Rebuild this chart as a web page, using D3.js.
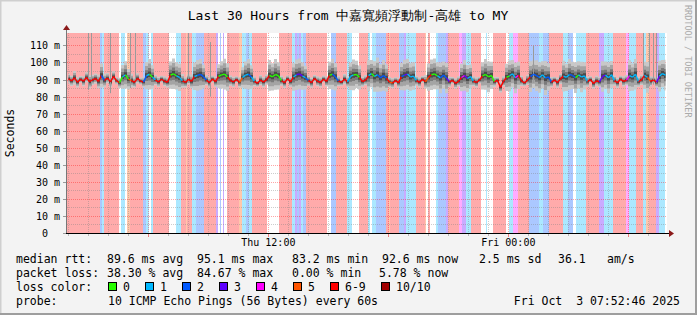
<!DOCTYPE html>
<html>
<head>
<meta charset="utf-8">
<script src="https://cdn.jsdelivr.net/npm/d3@7"></script>
<style>
  body { margin: 0; background: #f3f3f3; }
  text { font-family: "DejaVu Sans Mono", monospace; fill: #000; white-space: pre; }
</style>
</head>
<body>
<svg id="chart" width="697" height="315"></svg>
<script>
// ---- data ----
const title = "Last 30 Hours from 中嘉寬頻浮動制-高雄 to MY";
const timeStart = Date.UTC(2025, 9, 2, 1, 56);
const timeEnd = Date.UTC(2025, 9, 3, 7, 56);
const yMax = 117.3; // ms
const yLabels = [0, 10, 20, 30, 40, 50, 60, 70, 80, 90, 100, 110];

const lossNames = ["0", "1", "2", "3", "4", "5", "6-9", "10/10"];
const lossColors = ["#26ff00", "#00b8ff", "#0059ff", "#5e00ff", "#ff00ff", "#ff5500", "#ff0000", "#a10000"];

// [lost pings out of 10, duration in minutes]
const lossRuns = [
  [7,99],[2,6],[1,6],[7,45],[0,6],[1,12],[0,6],[5,9],[7,39],[2,9],[1,9],[0,6],[1,6],[7,48],
  [0,21],[1,15],[7,15],[5,3],[7,15],[1,12],[2,24],[7,36],[3,6],[0,6],[2,3],[0,6],[3,3],[0,9],
  [7,36],[5,9],[1,12],[2,9],[1,9],[7,45],[0,36],[7,39],[1,9],[3,6],[2,6],[3,6],[1,6],[2,9],
  [7,63],[0,12],[2,15],[7,33],[1,15],[0,21],[7,27],
  [1,6],[0,6],[1,12],[2,30],[7,9],[5,3],[7,27],[2,15],[3,6],[1,30],[7,27],[5,3],[0,6],[7,6],
  [0,18],[1,6],[2,24],[3,6],[7,33],[4,9],[3,12],[1,15],[7,30],[0,15],[1,3],[0,18],[7,39],[0,9],
  [1,12],[4,15],[7,33],[2,30],[1,12],[2,18],[7,42],[1,15],[2,15],[0,9],[1,30],[7,39],[3,15],
  [1,27],[7,39],[4,9],[1,21],[7,21],[1,9],[5,9],[7,21],[3,9],[1,18],[0,6]
];

// median rtt (ms), one value every 9 minutes
const median = [
  90.5,89.2,91.0,88.4,90.1,89.0,91.3,88.7,89.8,90.6,
  88.9,92.4,89.5,90.8,88.6,91.9,89.3,88.1,91.6,92.8,
  90.2,89.4,88.3,90.7,89.1,88.5,92.3,93.1,91.4,89.7,
  88.6,90.2,89.0,88.4,92.6,93.4,92.1,91.3,89.2,88.3,
  90.1,88.9,91.8,92.5,93.0,91.7,89.6,88.2,90.3,88.8,
  91.9,92.7,93.2,91.5,89.4,88.6,90.0,88.3,91.2,92.6,
  93.1,91.4,88.9,87.8,89.7,88.5,89.9,92.4,91.6,93.0,
  92.2,89.3,88.1,90.4,88.7,91.5,92.8,93.3,92.0,91.1,
  89.4,88.2,90.6,89.0,88.3,90.2,88.9,92.5,93.2,91.6,
  89.1,88.4,90.3,88.6,91.9,92.7,93.0,91.2,88.8,89.6,
  92.3,93.5,91.8,92.9,91.0,92.4,90.8,88.5,87.9,89.4,
  88.2,91.7,92.6,93.2,91.5,92.0,89.3,88.4,90.1,88.7,
  91.4,92.8,93.3,92.1,91.0,92.6,90.9,88.6,89.5,87.8,
  88.9,91.2,92.4,90.6,91.8,89.0,88.3,89.7,92.1,93.0,
  91.6,92.4,88.7,89.5,85.4,88.9,91.3,92.2,93.4,91.0,
  92.5,89.2,88.0,89.8,91.7,93.1,92.3,91.2,92.8,90.9,
  91.6,88.5,89.7,88.2,90.4,92.0,91.3,93.0,92.4,91.1,
  92.7,91.5,92.2,88.8,89.9,87.7,89.3,88.6,91.8,92.6,
  91.0,92.9,89.4,88.1,90.2,88.9,89.6,92.3,91.4,93.1,
  88.7,89.8,92.5,91.3,88.9,89.7,88.4,92.0,93.5,92.6
];

// half-width of the smoke (ms), same 9 minute steps
const smoke = [
  3,3,4,3,2,3,3,4,3,3, 4,7,4,3,3,3,2,3,7,8, 6,4,3,3,2,3,8,9,7,3, 3,2,3,3,8,9,8,8,4,3,
  3,4,8,9,9,7,3,3,2,3, 7,8,9,8,3,3,2,3,6,8, 9,7,3,2,3,3,3,9,8,9, 8,3,3,2,3,8,9,9,8,7,
  3,3,2,3,3,2,3,8,9,8, 3,2,3,3,8,9,8,7,3,3, 9,8,9,10,8,9,8,3,3,2, 3,8,9,9,8,8,3,3,2,4,
  8,9,9,8,9,8,9,3,2,3, 3,8,9,8,7,3,3,2,8,9, 9,8,3,2,3,3,8,9,8,9, 8,3,2,3,9,8,9,9,8,10,
  8,3,2,3,3,9,8,9,8,9, 8,9,8,3,2,3,3,3,9,8, 9,8,3,3,2,3,3,9,8,9, 3,3,8,9,3,2,3,9,8,9
];

// single pings far off the smoke: [hours after start, high ms, low ms]
const spikes = [
  [1.05,130,84],[1.2,130,86],[2.15,130,82],[3.15,130,85],[3.4,130,86],[6.05,130,88],
  [7.15,112,80],[23.3,110,88],[28.8,130,88],[29.1,130,86],[29.3,130,87],[29.45,130,88]
];

const rttLegend = ["89.6 ms avg", "95.1 ms max", "83.2 ms min", "92.6 ms now", "2.5 ms sd", "36.1", "am/s"];
const lossLegend = ["38.30 % avg", "84.67 % max", "0.00 % min", "5.78 % now"];
const probeText = "10 ICMP Echo Pings (56 Bytes) every 60s";
const stampText = "Fri Oct  3 07:52:46 2025";

// ---- drawing ----
const W = 697, H = 315;
const L = 67, R = 667, T = 33, B = 233;
const svg = d3.select("#chart");

const x = d3.scaleUtc().domain([new Date(timeStart), new Date(timeEnd)]).range([L, R]);
const y = d3.scaleLinear().domain([0, yMax]).range([B, T]);

const lossCat = n => n <= 5 ? n : (n < 10 ? 6 : 7);
const bgColor = n => d3.interpolateRgb("#ffffff", lossColors[lossCat(n)])(0.33);

// frame
svg.append("rect").attr("width", W).attr("height", H).attr("fill", "#f3f3f3");
svg.append("path").attr("d", `M0.5,${H - 1} V0.5 H${W - 1}`).attr("stroke", "#cfcfcf").attr("stroke-width", 2).attr("fill", "none");
svg.append("path").attr("d", `M${W - 1},0 V${H - 1} H0`).attr("stroke", "#9e9e9e").attr("stroke-width", 2).attr("fill", "none");

svg.append("defs").append("clipPath").attr("id", "plot")
  .append("rect").attr("x", L).attr("y", T).attr("width", R - L).attr("height", B - T);

svg.append("rect").attr("x", L).attr("y", T).attr("width", R - L).attr("height", B - T).attr("fill", "#fff");

// loss background stripes
let acc = 0;
const runs = lossRuns.map(([n, m]) => {
  const r = { n: n, t0: new Date(timeStart + acc * 60000), t1: new Date(timeStart + (acc + m) * 60000) };
  acc += m;
  return r;
});
const lossAt = t => {
  const r = runs.find(r => t >= r.t0 && t < r.t1);
  return r ? r.n : 0;
};

svg.append("g").selectAll("rect")
  .data(runs.filter(r => r.n > 0))
  .enter().append("rect")
  .attr("x", d => x(d.t0))
  .attr("y", T)
  .attr("width", d => x(d.t1) - x(d.t0))
  .attr("height", B - T)
  .attr("fill", d => bgColor(d.n));

// grid
const grid = svg.append("g");
const hours = d3.utcHour.every(1).range(new Date(timeStart), new Date(timeEnd));
hours.forEach(h => {
  const major = h.getUTCHours() % 6 === 0;
  const px = Math.round(x(h)) + 0.5;
  grid.append("line").attr("x1", px).attr("x2", px).attr("y1", T).attr("y2", B)
    .attr("stroke", major ? "rgba(255,0,0,0.35)" : "rgba(130,130,130,0.4)")
    .attr("stroke-dasharray", "1,1");
});
d3.range(5, yMax, 5).forEach(v => {
  const major = v % 10 === 0;
  const py = Math.round(y(v)) + 0.5;
  grid.append("line").attr("x1", L).attr("x2", R).attr("y1", py).attr("y2", py)
    .attr("stroke", major ? "rgba(255,0,0,0.35)" : "rgba(130,130,130,0.4)")
    .attr("stroke-dasharray", "1,1");
});

// smoke, drawn in steps like rrdtool
const step = 9 * 60000;
const pts = median.map((m, i) => ({ t: new Date(timeStart + i * step + step / 2), m: m, s: smoke[i] }));
const plot = svg.append("g").attr("clip-path", "url(#plot)");
[[1, "#c8c8c8"], [0.7, "#a4a4a4"], [0.4, "#7a7a7a"], [0.18, "#4a4a4a"]].forEach(([k, c]) => {
  const area = d3.area()
    .curve(d3.curveStep)
    .x(d => x(d.t))
    .y0(d => y(d.m - d.s * k))
    .y1(d => y(d.m + d.s * k));
  plot.append("path").datum(pts).attr("d", area).attr("fill", c);
});

// spikes
plot.selectAll("line.spike")
  .data(spikes)
  .enter().append("line")
  .attr("class", "spike")
  .attr("x1", d => Math.round(x(new Date(timeStart + d[0] * 3600000))) + 0.5)
  .attr("x2", d => Math.round(x(new Date(timeStart + d[0] * 3600000))) + 0.5)
  .attr("y1", d => y(d[1]))
  .attr("y2", d => y(d[2]))
  .attr("stroke", "#9a9a9a")
  .attr("stroke-width", 1);

// median, coloured by loss
plot.selectAll("path.med")
  .data(pts.slice(0, -1))
  .enter().append("path")
  .attr("class", "med")
  .attr("d", (d, i) => `M${x(d.t)},${y(d.m)}L${x(pts[i + 1].t)},${y(pts[i + 1].m)}`)
  .attr("stroke", d => lossColors[lossCat(lossAt(d.t))])
  .attr("stroke-width", 1.4)
  .attr("fill", "none");

// axes
svg.append("line").attr("x1", L - 0.5).attr("x2", L - 0.5).attr("y1", B).attr("y2", T - 5)
  .attr("stroke", "#777");
svg.append("path").attr("d", `M${L - 4},${T - 3} L${L - 0.5},${T - 8} L${L + 3},${T - 3} Z`).attr("fill", "#8b1a1a");
svg.append("line").attr("x1", L - 4).attr("x2", R + 4).attr("y1", B + 0.5).attr("y2", B + 0.5)
  .attr("stroke", "#000");
svg.append("path").attr("d", `M${R + 2},${B - 3} L${R + 7},${B + 0.5} L${R + 2},${B + 4} Z`).attr("fill", "#8b1a1a");

hours.forEach(h => {
  const major = h.getUTCHours() % 6 === 0;
  const px = Math.round(x(h)) + 0.5;
  svg.append("line").attr("x1", px).attr("x2", px).attr("y1", B + 1).attr("y2", B + (major ? 4 : 3))
    .attr("stroke", major ? "#f08080" : "#bbb");
});
yLabels.forEach(v => {
  const py = Math.round(y(v)) + 0.5;
  svg.append("line").attr("x1", L - 4).attr("x2", L - 1).attr("y1", py).attr("y2", py).attr("stroke", "#999");
  svg.append("text")
    .attr("x", v === 0 ? 48 : 60)
    .attr("y", py + 3.5)
    .attr("text-anchor", "end")
    .style("font-size", "10px")
    .text(v === 0 ? "0" : v + " m");
});

const labelTicks = d3.utcHour.every(12).range(new Date(timeStart), new Date(timeEnd));
svg.selectAll("text.xl")
  .data(labelTicks)
  .enter().append("text")
  .attr("class", "xl")
  .attr("x", d => x(d))
  .attr("y", 246)
  .attr("text-anchor", "middle")
  .style("font-size", "10px")
  .text(d3.utcFormat("%a %H:%M"));

// titles
svg.append("text").attr("x", 348).attr("y", 19.5).attr("text-anchor", "middle")
  .style("font-size", "13px").text(title);
svg.append("text").attr("transform", "translate(14,133) rotate(-90)").attr("text-anchor", "middle")
  .style("font-size", "11.5px").text("Seconds");
svg.append("text").attr("transform", "translate(685,5) rotate(90)")
  .style("font-size", "8.5px").style("fill", "#aaa").text("RRDTOOL / TOBI OETIKER");

// legend
const leg = svg.append("g").style("font-size", "11.5px");
const rowY = [263, 277, 291, 305];
leg.append("text").attr("x", 16).attr("y", rowY[0]).text("median rtt:");
[107, 197, 292, 382, 479, 558, 607].forEach((lx, i) =>
  leg.append("text").attr("x", lx).attr("y", rowY[0]).text(rttLegend[i]));
leg.append("text").attr("x", 16).attr("y", rowY[1]).text("packet loss:");
[107, 197, 292, 379].forEach((lx, i) =>
  leg.append("text").attr("x", lx).attr("y", rowY[1]).text(lossLegend[i]));
leg.append("text").attr("x", 16).attr("y", rowY[2]).text("loss color:");
const boxX = [108, 145, 182, 219, 256, 293, 330, 381];
lossNames.forEach((n, i) => {
  leg.append("rect").attr("x", boxX[i] + 0.5).attr("y", rowY[2] - 8.5).attr("width", 8).attr("height", 8)
    .attr("fill", lossColors[i]).attr("stroke", "#000");
  leg.append("text").attr("x", boxX[i] + 15).attr("y", rowY[2]).text(n);
});
leg.append("text").attr("x", 16).attr("y", rowY[3]).text("probe:");
leg.append("text").attr("x", 108).attr("y", rowY[3]).text(probeText);
leg.append("text").attr("x", 680).attr("y", rowY[3]).attr("text-anchor", "end").text(stampText);
</script>
</body>
</html>
